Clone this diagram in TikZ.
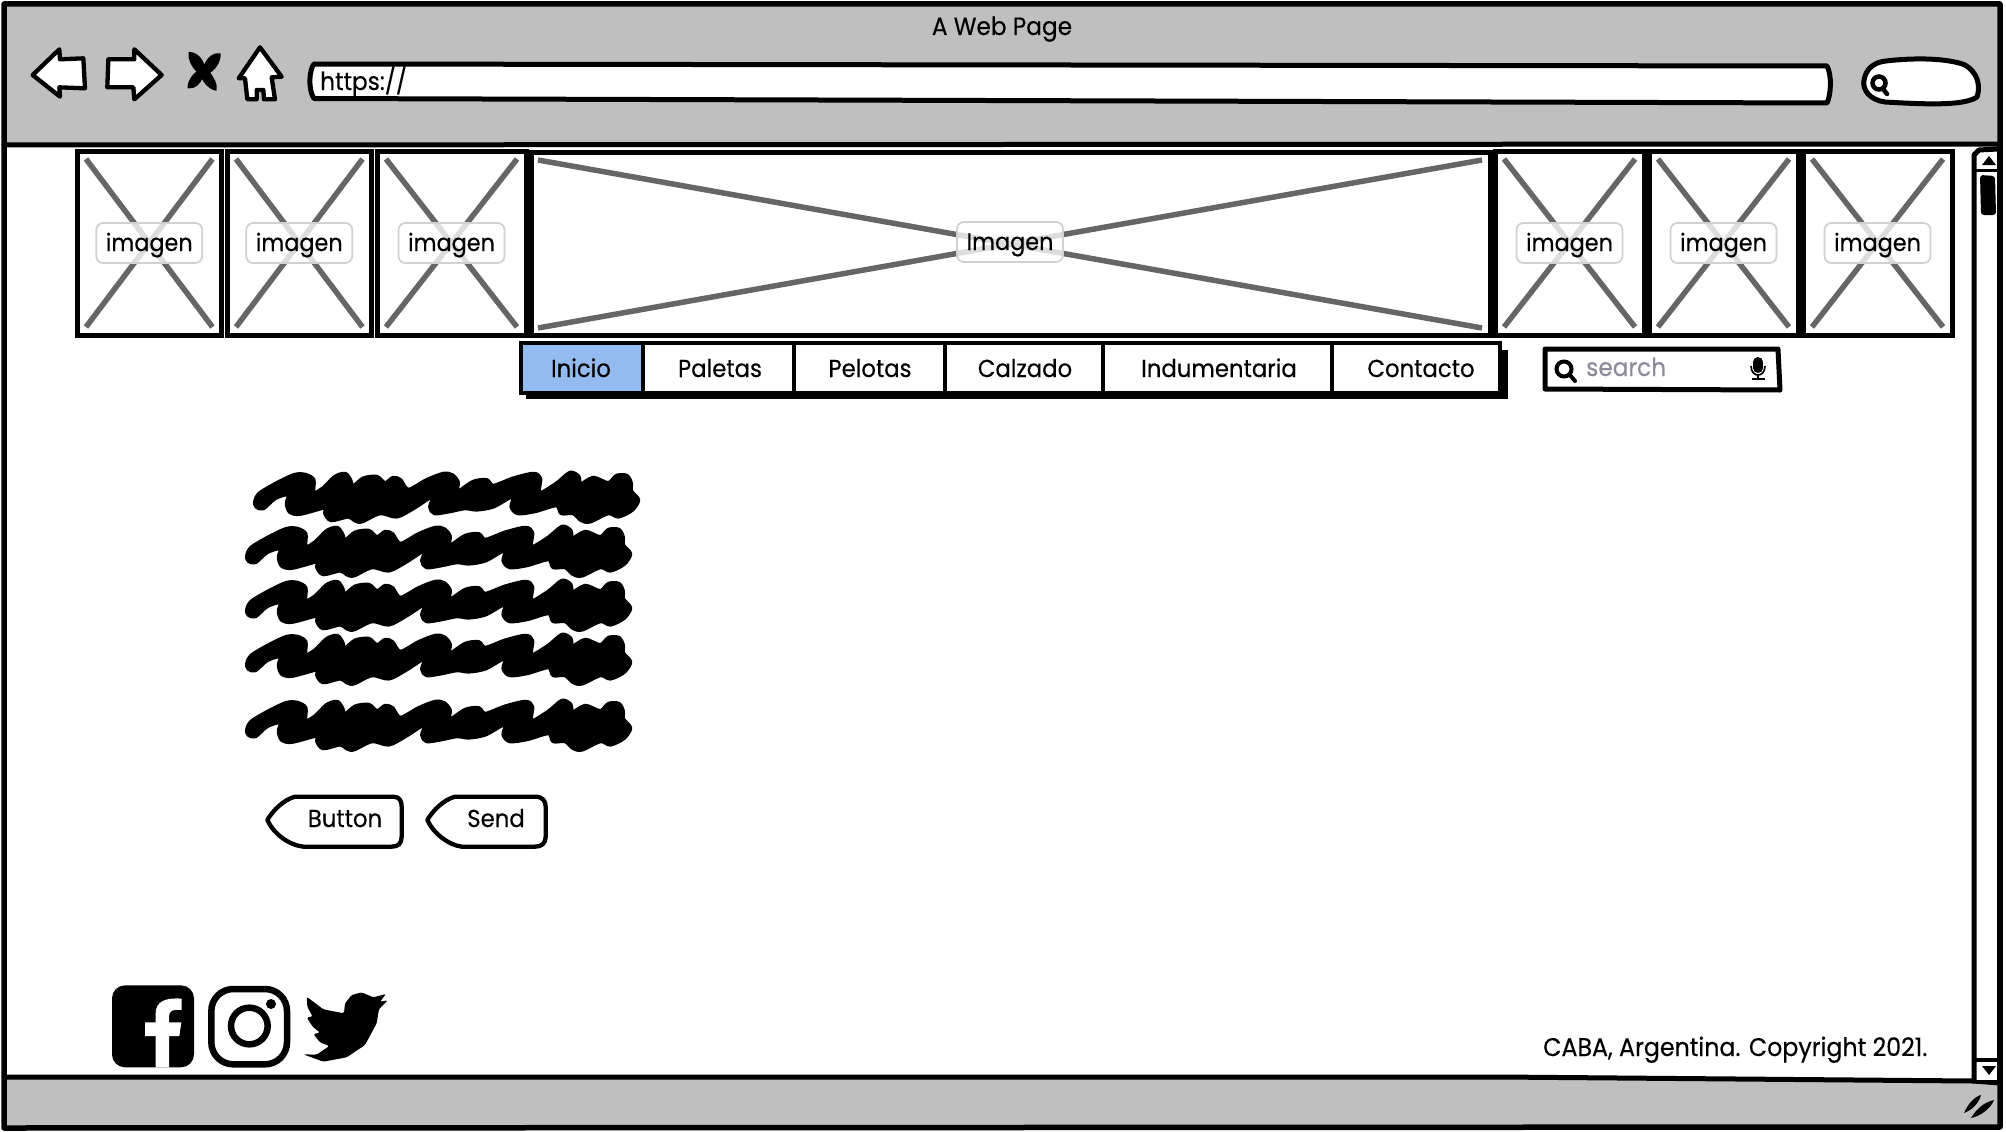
\documentclass[tikz,border=0pt]{standalone}
\usepackage{fontspec}
\setmainfont{Poppins}[FakeStretch=0.93,FakeBold=0.35]
\definecolor{chrome}{HTML}{BFBFBF}
\definecolor{crossgray}{HTML}{666666}
\definecolor{tabblue}{HTML}{93BBF0}
\definecolor{hintgray}{HTML}{8B8B9B}
\tikzset{
  ink/.style={draw=black,line width=5pt,line join=round,line cap=round},
  thinink/.style={draw=black,line width=4.3pt,line join=round,line cap=round},
  imgbox/.style={draw=black,fill=white,line width=5pt},
  imgcross/.style={draw=crossgray,line width=5.5pt},
  imglabel/.style={draw=black!18,line width=1.7pt,fill=white,fill opacity=.78,text opacity=1,rounded corners=7pt,minimum width=106pt,minimum height=40pt,inner sep=0pt,text height=20pt,text depth=4pt,font=\fontsize{24}{28}\selectfont},
  navtxt/.style={font=\fontsize{24.5}{28}\selectfont,inner sep=0pt,anchor=base},
  btntxt/.style={font=\fontsize{24.5}{28}\selectfont,inner sep=0pt,anchor=base},
}
\newcommand{\imgcell}[5]{% name x0 y0 x1 y1
  \path[imgbox] (#2,#3) rectangle (#4,#5);
  \draw[imgcross] (#2+9,#3+8) -- (#4-9,#5-8);
  \draw[imgcross] (#2+9,#5-8) -- (#4-9,#3+8);
  \node[imglabel] (#1) at ({(#2+#4)/2},{(#3+#5)/2}) {#1};
}
\newcommand{\scribble}{%
  \path[fill=black,draw=black,line width=4.5pt,line join=round] plot[smooth cycle,tension=.5] coordinates {
  (106,155)(120,130)(180,95)(225,75)(256,75)(280,90)(280,130)(310,115)(345,81)(375,72)(390,90)(399,110)(430,86)(470,81)(495,100)(520,84)(541,91)(565,120)(620,91)(670,72)(696,76)(713,97)(711,127)(760,96)(800,91)(820,108)(880,86)(940,72)(960,86)(958,130)(1010,101)(1050,69)(1075,80)(1081,104)(1120,84)(1165,100)(1190,78)(1220,78)(1232,99)(1233,124)(1254,150)(1235,180)(1195,199)(1165,189)(1110,214)(1084,210)(1060,189)(1024,189)(1010,165)(945,183)(894,189)(875,170)(880,137)(820,169)(770,178)(735,174)(690,183)(644,189)(631,170)(640,137)(580,174)(530,199)(480,189)(425,214)(404,210)(385,199)(334,210)(316,190)(316,172)(240,191)(210,185)(201,160)(206,132)(165,144)(130,174)(110,170)};
}
\begin{document}
\begin{tikzpicture}[x=1pt,y=-1pt]
\useasboundingbox (0,0) rectangle (2006,1132);
\fill[white] (0,0) rectangle (2006,1132);
% window
\fill[chrome] (4,4) rectangle (2000,145);
\fill[chrome] (4,1077) -- (1500,1077) -- (2000,1083) -- (2000,1127) -- (4,1128) -- cycle;
\draw[ink,line width=5.5pt] (4,4) -- (2000,4) -- (2000,1127) -- (4,1128) -- cycle;
\draw[ink] (4,145) -- (2000,144);
\draw[ink] (4,1077) -- (1500,1077) -- (1973,1081) -- (2000,1083);
\node[font=\fontsize{25}{28}\selectfont,inner sep=0pt,anchor=base] (title) at (1002,35) {A Web Page};
% nav icons
\begin{scope}[scale=1/3]
\path[thinink,fill=white] (98,225) -- (178,148) -- (180,178) -- (250,175) -- (255,265) -- (178,262) -- (180,290) -- cycle;
\path[thinink,fill=white] (485,225) -- (403,148) -- (403,178) -- (325,178) -- (322,262) -- (400,262) -- (403,298) -- cycle;
\path[fill=black,draw=black,line width=1.5pt,line join=round] (568,158) .. controls (600,160) and (610,190) .. (612,200) .. controls (625,170) and (640,160) .. (660,162) .. controls (660,190) and (640,210) .. (628,218) .. controls (640,235) and (650,250) .. (648,270) .. controls (625,265) and (612,245) .. (606,232) .. controls (600,250) and (585,265) .. (565,263) .. controls (565,240) and (580,225) .. (592,215) .. controls (578,200) and (565,180) .. (568,158) -- cycle;
\path[thinink,fill=white] (780,142) -- (845,230) -- (815,232) -- (825,298) -- (792,298) -- (790,270) -- (770,270) -- (770,298) -- (742,298) -- (735,235) -- (716,235) -- cycle;
\end{scope}
% address bar
\path[ink,fill=white] (314,64) .. controls (309,70) and (308,90) .. (314,98.5) -- (1827,103) .. controls (1831,95) and (1832,75) .. (1827,66) -- cycle;
\node[font=\fontsize{25}{28}\selectfont,inner sep=0pt,anchor=base west] (url) at (320,90) {https://};
% search pill
\path[ink,fill=white] (1886,61) .. controls (1920,57) and (1950,59) .. (1965,65) .. controls (1977,72) and (1981,85) .. (1977,97) .. controls (1965,105) and (1935,105) .. (1885,102) .. controls (1870,100) and (1862,90) .. (1864,80) .. controls (1866,68) and (1875,62) .. (1886,61) -- cycle;
\draw[line width=4.5pt] (1879,83) circle (6.5);
\draw[line width=4.5pt,line cap=round] (1883,89) -- (1887,94);
% images
\imgcell{imagen}{77}{151}{221.5}{335}
\imgcell{imagen}{227}{151}{371.5}{335}
\imgcell{imagen}{377}{151}{526}{335}
\imgcell{imagen}{1495}{151}{1644}{335}
\imgcell{imagen}{1649}{151}{1798}{335}
\imgcell{imagen}{1803}{151}{1952}{335}
\path[imgbox] (531,152.5) rectangle (1490,335);
\draw[imgcross] (538,160) -- (1482,328);
\draw[imgcross] (538,328) -- (1482,160);
\node[imglabel] (hero) at (1010,242) {Imagen};
% nav bar
\fill[black] (526,350) rectangle (1508,399);
\path[draw=black,line width=4pt,fill=white] (521,343) rectangle (1500,393);
\path[draw=black,line width=4pt,fill=tabblue] (521,343) rectangle (643,393);
\foreach \sx in {794,945,1103,1332} \draw[black,line width=4pt] (\sx,343) -- (\sx,393);
\draw[black,line width=4pt] (521,343) -- (1500,343);
\node[navtxt] (n1) at (581,377) {Inicio};
\node[navtxt] (n2) at (720,377) {Paletas};
\node[navtxt] (n3) at (870,377) {Pelotas};
\node[navtxt] (n4) at (1025,377) {Calzado};
\node[navtxt] (n5) at (1219,377) {Indumentaria};
\node[navtxt] (n6) at (1421,377) {Contacto};
% search box
\path[ink,fill=white] (1545,349) -- (1778,349) -- (1780,390) -- (1545,389) -- cycle;
\draw[line width=4pt] (1564,369) circle (7.5);
\draw[line width=4pt,line cap=round] (1570,375) -- (1575,381);
\node[font=\fontsize{25}{28}\selectfont,text=hintgray,inner sep=0pt,anchor=base west] (srch) at (1586,376) {search};
\fill[black] (1753,362) rectangle (1763,368);
\fill[black] (1758,362) circle (5);
\fill[black] (1758,368) circle (5);
\draw[line width=1.7pt] (1751,366) .. controls (1751,378) and (1765,378) .. (1765,366);
\draw[line width=1.7pt] (1758,375) -- (1758,379) (1751.5,379) -- (1764.5,379);
% scrollbar
\fill[white] (1974,150) rectangle (1998,1080);
\draw[ink] (1974,1081) -- (1974,155) -- (1979,150) -- (1998,149);
\draw[line width=3pt] (1974,170) -- (1998,170);
\fill[black] (1989,156) -- (1996,165) -- (1982,165) -- cycle;
\fill[black,rounded corners=3pt] (1980,175) -- (1995,176) -- (1996,215) -- (1981,215) -- cycle;
\draw[line width=3.5pt] (1974,1060) -- (1998,1060);
\fill[black] (1982,1066) -- (1996,1066) -- (1989,1075) -- cycle;
\draw[ink,line width=5.5pt] (2000,145) -- (2000,1083);
% grip
\fill[black] (1964,1113) .. controls (1968,1104) and (1974,1097) .. (1981,1095) .. controls (1979,1103) and (1972,1110) .. (1964,1113) -- cycle;
\fill[black] (1971,1118) .. controls (1977,1108) and (1985,1102) .. (1994,1100) .. controls (1991,1108) and (1981,1116) .. (1971,1118) -- cycle;
% scribbles
\begin{scope}[shift={(220,450)},scale=1/3]
\scribble
\end{scope}
\foreach \yo in {54,108,162,228} {
\begin{scope}[shift={(212,450+\yo)},scale=1/3]
\scribble
\end{scope}}
% buttons
\begin{scope}[shift={(220,450)},scale=1/3]
\path[thinink,fill=white] (142,1110) .. controls (160,1080) and (190,1050) .. (225,1040) -- (520,1040) .. controls (540,1040) and (545,1055) .. (545,1070) -- (545,1160) .. controls (545,1180) and (535,1190) .. (515,1190) -- (250,1190) .. controls (205,1185) and (160,1150) .. (142,1110) -- cycle;
\path[thinink,fill=white] (622,1110) .. controls (640,1080) and (670,1050) .. (705,1040) -- (945,1040) .. controls (970,1040) and (977,1055) .. (977,1070) -- (977,1160) .. controls (977,1180) and (965,1190) .. (945,1190) -- (725,1190) .. controls (685,1185) and (640,1150) .. (622,1110) -- cycle;
\end{scope}
\node[btntxt] (b1) at (345,827) {Button};
\node[btntxt] (b2) at (496,827) {Send};
% social
\begin{scope}[shift={(90,960)},scale=1/3]
\fill[black,rounded corners=13pt] (66,76) rectangle (312,322);
\fill[white] (197,322) -- (197,228) -- (165,228) -- (165,187) -- (197,187) -- (197,160) .. controls (197,125) and (225,112) .. (275,116) -- (275,150) .. controls (250,148) and (237,150) .. (237,170) -- (237,187) -- (274,187) -- (268,228) -- (237,228) -- (237,322) -- cycle;
\draw[line width=6.5pt,rounded corners=22pt] (364,87) rectangle (591,313);
\draw[line width=6.5pt] (478,198) circle (55);
\fill[black] (543,132) circle (15);
\fill[black,rounded corners=1.5pt] (640,283) -- (680,284) -- (718,258) -- (690,247) -- (670,222) -- (690,218) -- (668,200) -- (650,172) -- (668,170) -- (652,140) -- (650,110) -- (700,148) -- (762,160) -- (765,130) -- (785,105) -- (815,97) -- (850,112) -- (888,102) -- (870,125) -- (893,121) -- (867,147) -- (860,190) -- (825,255) -- (770,292) -- (700,305) -- cycle;
\end{scope}
\node[font=\fontsize{25.5}{28}\selectfont,inner sep=0pt,anchor=base west] (copy) at (1543,1056) {CABA, Argentina. Copyright 2021.};
\end{tikzpicture}
\end{document}
